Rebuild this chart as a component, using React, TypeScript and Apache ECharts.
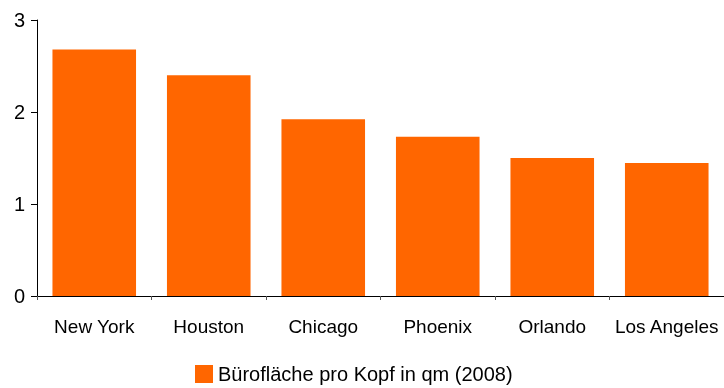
import React, { useEffect, useRef } from "react";
import * as echarts from "echarts";

const categories = ["New York", "Houston", "Chicago", "Phoenix", "Orlando", "Los Angeles"];
const values = [2.68, 2.4, 1.92, 1.73, 1.5, 1.445];
const seriesName = "Bürofläche pro Kopf in qm (2008)";

export default function App() {
  const ref = useRef<HTMLDivElement>(null);
  useEffect(() => {
    const chart = echarts.init(ref.current!, null, { renderer: "svg" });
    const font = "'Liberation Sans', Arial, sans-serif";
    chart.setOption({
      animation: false,
      grid: { left: 37, right: -6, top: 20, bottom: 92 },
      legend: {
        left: 195,
        top: 364,
        padding: 0,
        itemWidth: 18,
        itemHeight: 18,
        itemGap: 10,
        textStyle: { fontFamily: font, fontSize: 20, color: "#000", padding: [0, 0, 0, 0] },
        icon: "rect",
        data: [seriesName],
      },
      xAxis: {
        type: "category",
        data: categories,
        axisLine: { lineStyle: { color: "#000", width: 1 } },
        axisTick: { show: true, length: 4, lineStyle: { color: "#555" } },
        axisLabel: { fontFamily: font, fontSize: 19, color: "#000", margin: 21, interval: 0 },
      },
      yAxis: {
        type: "value",
        min: 0,
        max: 3,
        interval: 1,
        splitLine: { show: false },
        axisLine: { show: true, lineStyle: { color: "#000", width: 1 } },
        axisTick: { show: true, length: 6, lineStyle: { color: "#000" } },
        axisLabel: { fontFamily: font, fontSize: 20, color: "#000", margin: 12 },
      },
      series: [
        {
          name: seriesName,
          type: "bar",
          data: values,
          barCategoryGap: "27%",
          itemStyle: { color: "#FF6600" },
        },
      ],
    });
    return () => chart.dispose();
  }, []);
  return <div ref={ref} style={{ position: "fixed", left: 0, top: 0, width: 724, height: 388 }} />;
}
